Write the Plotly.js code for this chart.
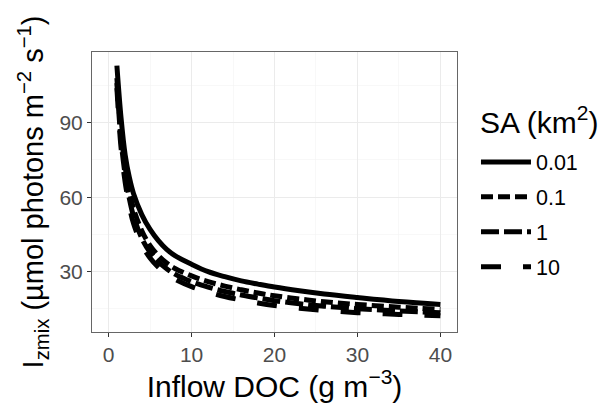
<!DOCTYPE html>
<html>
<head>
<meta charset="utf-8">
<script src="https://cdn.plot.ly/plotly-3.0.1.min.js"></script>
<style>html,body{margin:0;padding:0;background:#fff;}#chart{width:601px;height:403px;}</style>
</head>
<body>
<div id="chart"></div>
<script>
// Inflow DOC (g m^-3)
var doc = [1, 1.5, 2, 2.5, 3, 4, 5, 6, 7, 8, 10, 12, 14, 16, 18, 20, 23, 26, 30, 35, 40];
// Izmix for each surface area (km^2)
var sa001 = [113, 92, 77, 68, 61.5, 53, 47, 42.5, 39, 36.5, 33, 30, 28, 26.3, 25, 23.8, 22.3, 21, 19.6, 18, 16.8];
var sa01  = [108, 86, 72, 62.5, 55.5, 46.5, 40.5, 36.5, 33.5, 31.3, 28.3, 26, 24.2, 22.7, 21.4, 20.3, 19, 17.9, 16.8, 15.7, 14.8];
var sa1   = [106, 83, 69, 59.5, 52.5, 43.5, 37.8, 34, 31.2, 29, 26, 23.8, 22, 20.6, 19.4, 18.3, 17.1, 16.1, 15.1, 14.2, 13.5];
var sa10  = [104, 80, 66, 56.5, 49.5, 41, 35.5, 31.8, 29, 27, 24, 21.8, 20, 18.6, 17.4, 16.4, 15.3, 14.4, 13.5, 12.8, 12.2];
var seriesNames = ["0.01", "0.1", "1", "10"];
var seriesVals = [sa001, sa01, sa1, sa10];
var legendTitle = "SA (km<sup>2</sup>)";
var dashes = ["solid", "12px,5px", "18px,5px", "20px,22px"];

var traces = seriesVals.map(function (v, i) {
  return {
    x: doc, y: v, type: "scatter", mode: "lines", name: seriesNames[i],
    legendgroup: "g" + i,
    line: {color: "#000", width: 5, dash: dashes[i], shape: "spline"}
  };
});

var font = "Liberation Sans, Arial, sans-serif";
var layout = {
  width: 601, height: 403,
  margin: {l: 92, r: 144, t: 52, b: 71, pad: 0},
  paper_bgcolor: "#fff", plot_bgcolor: "#fff",
  font: {family: font, color: "#000"},
  xaxis: {
    range: [-2, 42], tick0: 0, dtick: 10, ticks: "outside", ticklen: 4, tickcolor: "#333",
    tickfont: {size: 21, color: "#4D4D4D"}, showgrid: true, gridcolor: "#EBEBEB", gridwidth: 1,
    minor: {dtick: 5, showgrid: true, gridcolor: "#F3F3F3", gridwidth: 0.6},
    zeroline: false, showline: true, mirror: true, linecolor: "#666", linewidth: 1,
    title: {text: "Inflow DOC (g m<sup>−3</sup>)", font: {size: 30, color: "#000"}, standoff: 0}
  },
  yaxis: {
    range: [5.7, 118.5], tick0: 0, dtick: 30, ticks: "outside", ticklen: 4, tickcolor: "#333",
    tickfont: {size: 21, color: "#4D4D4D"}, showgrid: true, gridcolor: "#EBEBEB", gridwidth: 1,
    minor: {dtick: 15, showgrid: true, gridcolor: "#F3F3F3", gridwidth: 0.6},
    zeroline: false, showline: true, mirror: true, linecolor: "#666", linewidth: 1,
    title: {text: "I<sub>zmix</sub> (µmol photons m<sup>−2</sup> s<sup>−1</sup>)", font: {size: 29, color: "#000"}, standoff: 7}
  },
  showlegend: true,
  legend: {
    x: 1.052, xanchor: "left", y: 0.42, yanchor: "middle",
    font: {size: 21.5, color: "#000"}, traceorder: "grouped", tracegroupgap: 4,
    itemwidth: 50, bgcolor: "rgba(0,0,0,0)"
  },
  annotations: [{
    text: legendTitle, xref: "paper", yref: "paper", x: 1.0575, xanchor: "left",
    y: (332 - 120) / 280, yanchor: "middle", showarrow: false,
    font: {size: 30, color: "#000", family: font}
  }]
};
Plotly.newPlot("chart", traces, layout, {staticPlot: true, displayModeBar: false});
</script>
</body>
</html>
